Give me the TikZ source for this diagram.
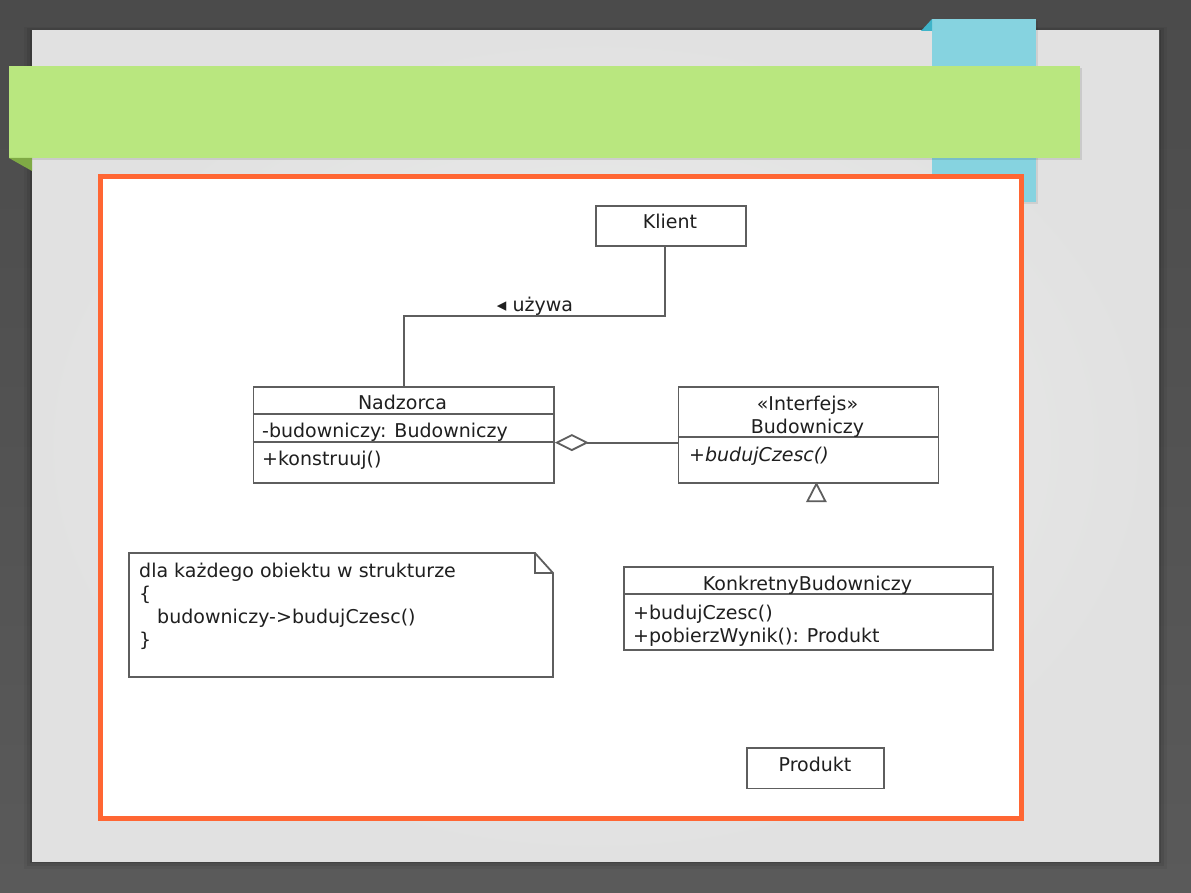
\documentclass[tikz,border=0pt]{standalone}
\usepackage{fontspec}
\setmainfont{DejaVu Sans}
\usepackage{tikz}
\usetikzlibrary{arrows.meta,calc,positioning}
\definecolor{deskgray}{HTML}{4B4B4B}
\definecolor{deskgraylight}{HTML}{5A5A5A}
\definecolor{slidecentre}{HTML}{EEEFEE}
\definecolor{slideedge}{HTML}{E1E1E1}
\definecolor{tabblue}{HTML}{86D3E0}
\definecolor{tabfold}{HTML}{3FB4C9}
\definecolor{bannergreen}{HTML}{B9E77F}
\definecolor{bannerfold}{HTML}{7FAA45}
\definecolor{frameorange}{HTML}{FF6633}
\colorlet{umlline}{black!63}
\colorlet{umltext}{black!88}
\tikzset{
  umlbox/.style={draw=umlline,line width=1.8pt,fill=white,inner sep=0pt,anchor=north west},
  umlrule/.style={draw=umlline,line width=1.8pt},
  umltxt/.style={text=umltext,font=\fontsize{19}{23}\selectfont,inner sep=0pt,anchor=base},
  umlleft/.style={umltxt,anchor=base west},
}

\begin{document}
\begin{tikzpicture}[x=1pt,y=-1pt,>=Latex]
\useasboundingbox (0,0) rectangle (1191,893);
% desk and slide
\shade[top color=deskgray,bottom color=deskgraylight] (0,0) rectangle (1191,893);
\foreach \o/\a in {8/0.05,5/0.08,2/0.12}{
  \fill[black,opacity=\a] (32-\o,31-\o/2) rectangle (1159+\o,861+\o);}
\shade[inner color=slidecentre,outer color=slideedge] (32,31) rectangle (1159,861);
% blue tab behind the banner
\fill[black,opacity=0.08] (934,21) rectangle (1038,204);
\fill[tabblue] (932,19) rectangle (1036,202);
\fill[tabfold] (921,31) -- (932,19) -- (932,31) -- cycle;
% green title banner
\fill[black,opacity=0.10] (11,68) rectangle (1082,160);
\fill[bannergreen] (9,66) rectangle (1080,158);
\fill[bannerfold] (9,158) -- (32,158) -- (32,171) -- cycle;
% orange frame round the diagram
\draw[frameorange,line width=5pt,fill=white] (100.5,176.5) rectangle (1021.5,818.5);

% classes
\node[umlbox,minimum width=150pt,minimum height=40.5pt] (klient) at (595,205) {};
\node[umlbox,minimum width=300.5pt,minimum height=96pt] (nadzorca) at (252.5,386) {};
\node[umlbox,minimum width=260pt,minimum height=96pt] (budowniczy) at (677.5,386) {};
\node[umlbox,minimum width=369pt,minimum height=83pt] (konkretny) at (623,566) {};
\node[umlbox,minimum width=137pt,minimum height=40.5pt] (produkt) at (746,747) {};
\foreach \d in {28,55.7}
  \draw[umlrule] ([yshift=-\d pt]nadzorca.north west) -- ([yshift=-\d pt]nadzorca.north east);
\draw[umlrule] ([yshift=-51.3pt]budowniczy.north west) -- ([yshift=-51.3pt]budowniczy.north east);
\draw[umlrule] ([yshift=-28pt]konkretny.north west) -- ([yshift=-28pt]konkretny.north east);

\node[umltxt] (klientname) at (670,229) {Klient};
\node[umltxt] (nadzorcaname) at (402.5,409.5) {Nadzorca};
\node[umlleft] (nadzorcaattr) at (262,437.5) {-budowniczy: Budowniczy};
\node[umlleft] (nadzorcaop) at (262,465.5) {+konstruuj()};
\node[umltxt] (stereotype) at (807.5,410) {«Interfejs»};
\node[umltxt] (budowniczyname) at (807.5,433.5) {Budowniczy};
\node[umlleft,font=\fontsize{19}{23}\selectfont\itshape] (budowniczyop) at (689,461) {+budujCzesc()};
\node[umltxt] (konkretnyname) at (807.5,590) {KonkretnyBudowniczy};
\node[umlleft] (konkretnyop) at (633,619) {+budujCzesc()};
\node[umlleft] (konkretnywynik) at (633,642) {+pobierzWynik(): Produkt};
\node[umltxt] (produktname) at (815,771) {Produkt};

% association, aggregation, generalization
\coordinate (usesturn) at (0,316);
\draw[umlrule] ([xshift=-6pt]klient.south) |- (usesturn -| nadzorca.north) -- (nadzorca.north);
\node[umltxt] (useslabel) at (535,312) {◂ używa};
\draw[umlrule,{Diamond[length=34pt,width=17pt,fill=white]}-] ([yshift=-7.7pt]nadzorca.east) -- ([yshift=-7.7pt]budowniczy.west);
\draw[umlrule,fill=white] ([xshift=8pt]budowniczy.south) -- ++(-9,17.5) -- ++(18,0) -- cycle;

% note with folded corner
\draw[umlrule,fill=white] (129,553) -- (535,553) -- (553,573) -- (553,677) -- (129,677) -- cycle;
\draw[umlrule] (535,553) -- (535,573) -- (553,573);
\foreach \ln/\xx/\txt [count=\i] in {0/139/dla każdego obiektu w strukturze,1/139/\{,2/157/budowniczy->budujCzesc(),3/139/\}}
  \node[umlleft] (noteline\i) at (\xx,577+23*\ln) {\txt};
\end{tikzpicture}
\end{document}
